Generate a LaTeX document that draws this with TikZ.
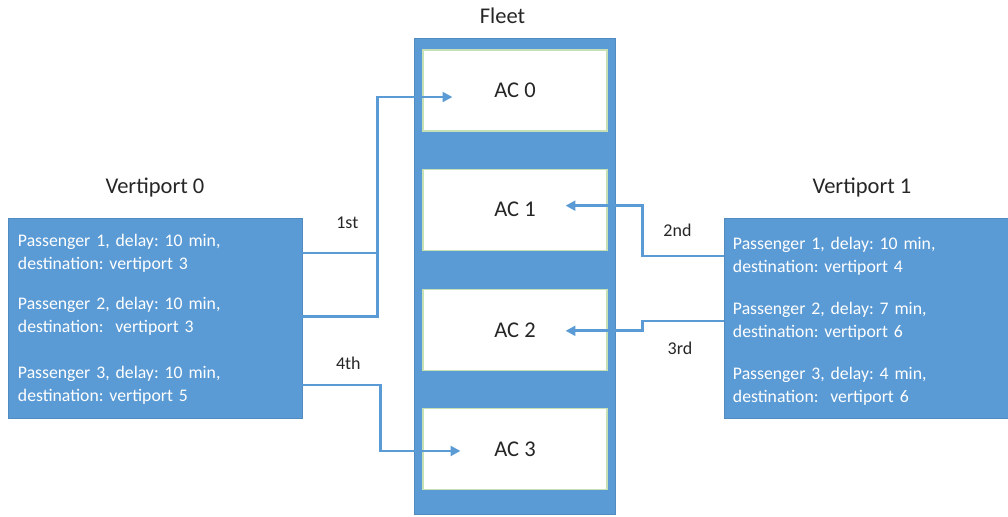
\documentclass[tikz,border=0pt]{standalone}
\usepackage{fontspec}
\setmainfont{Carlito}
\usepackage{tikz}
\usetikzlibrary{arrows.meta, positioning}
\usepackage{xcolor}
\definecolor{fleetblue}{HTML}{5B9BD5}
\definecolor{acedge}{HTML}{C5E0B4}
\definecolor{darktext}{HTML}{262626}
\frenchspacing

\begin{document}
\begin{tikzpicture}[
    x=0.025cm, y=-0.025cm,
    port/.style={rectangle, fill=fleetblue, draw=fleetblue!90!black,
                 line width=0.4pt, minimum height=5cm},
    pax/.style={text width=#1, align=left, inner ysep=0pt,
                text=white, font={\fontsize{12.6pt}{16.3pt}\selectfont}},
    acbox/.style={rectangle, draw=acedge, fill=white, line width=0.8pt,
                  minimum width=4.6cm, minimum height=2.025cm,
                  font=\fontsize{16pt}{19pt}\selectfont, text=darktext},
    ttl/.style={font=\fontsize{16pt}{19pt}\selectfont, text=darktext},
    lbl/.style={font=\fontsize{12.8pt}{15pt}\selectfont, text=darktext},
    link/.style={draw=fleetblue, line width=2pt,
                 -{Triangle[length=7pt, width=7pt]}},
  ]
    \useasboundingbox (0,0) rectangle (1008,516);

    % fleet
    \node[rectangle, fill=fleetblue, draw=fleetblue!90!black,
          minimum width=5.025cm, minimum height=11.9cm] (fleet) at (514.5,276) {};
    \node[ttl, above=0.22cm of fleet, xshift=-0.3cm] (fleetttl) {Fleet};
    \node[acbox] (ac0) at (515,90.5) {AC 0};
    \node[acbox, below=0.925cm of ac0] (ac1) {AC 1};
    \node[acbox, below=0.95cm of ac1] (ac2) {AC 2};
    \node[acbox, below=0.925cm of ac2] (ac3) {AC 3};

    % vertiport 0
    \node[port, minimum width=7.35cm] (vp0) at (155,318) {};
    \node[ttl, above=0.4cm of vp0] (vp0ttl) {Vertiport 0};
    \node[pax=6.85cm, inner xsep=0.25cm] (p01) at (155,253)
      {Passenger 1, delay: 10 min,\\ destination: vertiport 3};
    \node[pax=6.85cm, inner xsep=0.25cm] (p02) at (155,316.5)
      {Passenger 2, delay: 10 min,\\ destination: \ vertiport 3};
    \node[pax=6.85cm, inner xsep=0.25cm] (p03) at (155,385)
      {Passenger 3, delay: 10 min,\\ destination: vertiport 5};

    % vertiport 1
    \node[port, minimum width=7.1cm] (vp1) at (866,318.5) {};
    \node[ttl, above=0.4cm of vp1, xshift=-0.1cm] (vp1ttl) {Vertiport 1};
    \node[pax=6.65cm, inner xsep=0.225cm] (p11) at (866,256)
      {Passenger 1, delay: 10 min,\\ destination: vertiport 4};
    \node[pax=6.65cm, inner xsep=0.225cm] (p12) at (866,321)
      {Passenger 2, delay: 7 min,\\ destination: vertiport 6};
    \node[pax=6.65cm, inner xsep=0.225cm] (p13) at (866,386.5)
      {Passenger 3, delay: 4 min,\\ destination: \ vertiport 6};

    % assignments
    \draw[link, -] (p01.east) -- ++(75,0)
      node[lbl, pos=0.6, yshift=0.75cm] {1st};
    \draw[link] (p02.east) -- ++(75,0) |- ([shift={(30,6.5)}]ac0.west);
    \draw[link] (p03.east) -- ++(78,0)
      node[lbl, pos=0.59, yshift=0.55cm] {4th}
      |- ([shift={(38,2)}]ac3.west);
    \draw[link] (p11.west) -- ++(-81,0)
      node[lbl, pos=0.57, yshift=0.65cm] {2nd}
      |- ([shift={(-42,-4)}]ac1.east);
    \draw[link] (p12.west) -- ++(-81,0)
      node[lbl, pos=0.54, yshift=-0.68cm] {3rd}
      |- ([shift={(-42,1)}]ac2.east);
  \end{tikzpicture}
\end{document}
